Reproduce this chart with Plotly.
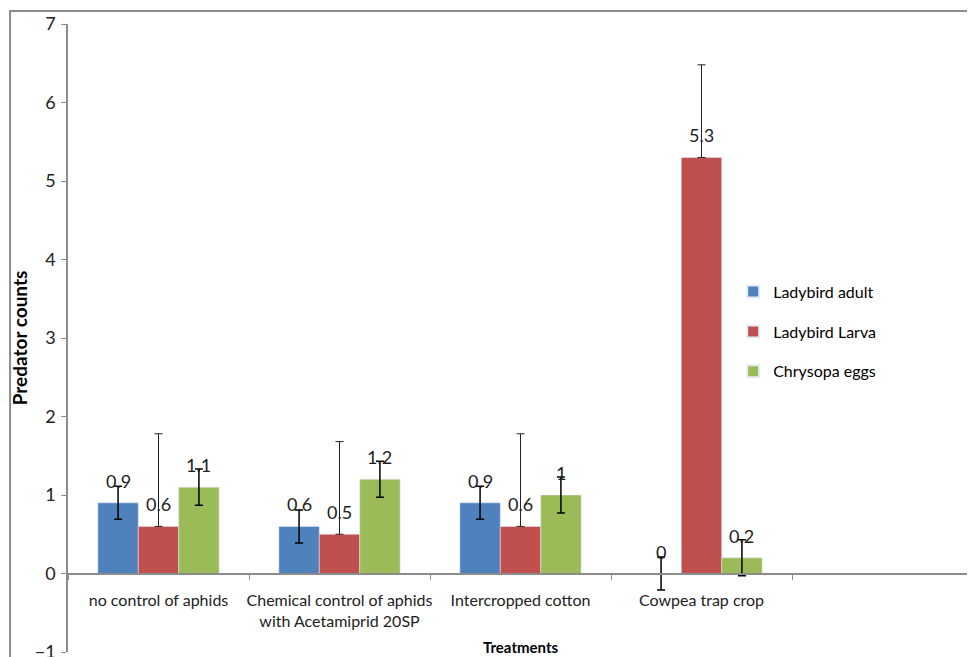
import plotly.graph_objects as go

categories = ["no control of aphids",
              "Chemical control of aphids<br>with Acetamiprid 20SP",
              "Intercropped cotton",
              "Cowpea trap crop"]
all_slots = categories + [" "]
series_names = ["Ladybird adult", "Ladybird Larva", "Chrysopa eggs"]
adult = [0.9, 0.6, 0.9, 0.0]
larva = [0.6, 0.5, 0.6, 5.3]
eggs = [1.1, 1.2, 1.0, 0.2]
adult_err = [0.21, 0.21, 0.21, 0.21]
larva_err_plus = [1.18, 1.18, 1.18, 1.18]
eggs_err = [0.23, 0.23, 0.23, 0.23]
y_ticks = [-1, 0, 1, 2, 3, 4, 5, 6, 7]

colors = ["#4F81BD", "#C0504D", "#9BBB59"]
FONT = "Lato, Liberation Sans, sans-serif"
BARGAP = 0.33

fig = go.Figure()
fig.add_trace(go.Bar(name=series_names[0], x=categories, y=adult, marker_color=colors[0],
                     legendgroup="a",
                     error_y=dict(type="data", array=adult_err, symmetric=True,
                                  color="#000000", thickness=1.5, width=4)))
fig.add_trace(go.Bar(name=series_names[1], x=categories, y=larva, marker_color=colors[1],
                     legendgroup="b",
                     error_y=dict(type="data", array=larva_err_plus,
                                  arrayminus=[0] * len(larva), symmetric=False,
                                  color="#222222", thickness=1, width=4)))
fig.add_trace(go.Bar(name=series_names[2], x=categories, y=eggs, marker_color=colors[2],
                     legendgroup="c",
                     error_y=dict(type="data", array=eggs_err, symmetric=True,
                                  color="#000000", thickness=1.5, width=4)))

# data labels above bars
bw = (1 - BARGAP) / 3
for si, vals in enumerate([adult, larva, eggs]):
    for ci, v in enumerate(vals):
        fig.add_annotation(x=ci + (si - 1) * bw, y=v, xref="x", yref="y",
                           text=f"{v:g}", showarrow=False, yanchor="bottom",
                           yshift=9, font=dict(family=FONT, size=18, color="#222222"))

fig.add_annotation(x=0.5, y=0.008, xref="paper", yref="paper", text="<b>Treatments</b>",
                   showarrow=False, yanchor="middle",
                   font=dict(family=FONT, size=15, color="#000000"))

# chart border (left and top visible)
fig.add_shape(type="rect", xref="paper", yref="paper", x0=-0.064, x1=1.2, y0=-0.2, y1=1.0207,
              line=dict(color="#8c8c8c", width=2), layer="below")

fig.update_layout(
    width=975, height=657,
    margin=dict(l=60, r=10, t=16, b=13),
    paper_bgcolor="white", plot_bgcolor="white",
    barmode="group", bargap=BARGAP, bargroupgap=0,
    font=dict(family=FONT, size=16, color="#222222"),
    showlegend=True,
    legend=dict(x=0.735, y=0.51, xanchor="left", yanchor="middle",
                font=dict(family=FONT, size=16, color="#000000"),
                itemsizing="constant", tracegroupgap=16, bgcolor="rgba(0,0,0,0)",
                itemwidth=30),
    xaxis=dict(type="category", categoryorder="array", categoryarray=all_slots,
               range=[-0.5, 4.5], anchor="free", position=0.125, automargin=False,
               showline=True, linecolor="#8c8c8c", linewidth=1.5, tickangle=0,
               ticks="outside", tickson="boundaries", ticklen=6, tickcolor="#8c8c8c",
               ticklabelstandoff=13,
               tickfont=dict(family=FONT, size=16, color="#222222"),
               showgrid=False, zeroline=False),
    yaxis=dict(range=[-1, 7], tickvals=y_ticks, showline=True, linecolor="#8c8c8c",
               linewidth=1.5, ticks="outside", ticklen=5, tickcolor="#8c8c8c",
               automargin=False, ticklabelstandoff=2,
               tickfont=dict(family=FONT, size=18, color="#222222"),
               showgrid=False, zeroline=False,
               title=dict(text="<b>Predator counts</b>", standoff=18,
                          font=dict(family=FONT, size=19, color="#000000"))),
)

fig.write_html("out.html")
